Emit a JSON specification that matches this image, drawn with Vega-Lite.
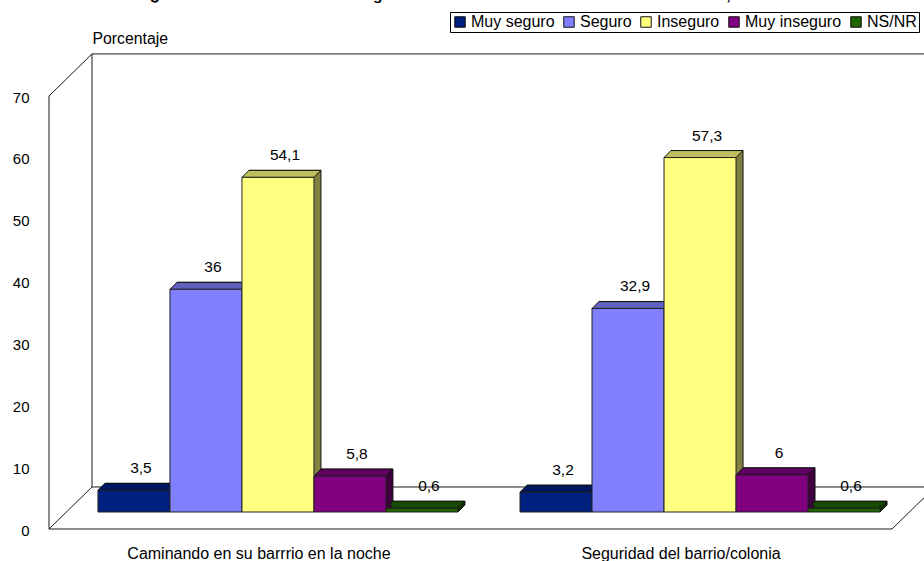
{
  "$schema": "https://vega.github.io/schema/vega-lite/v6.json",
  "width": 875,
  "height": 433,
  "autosize": "none",
  "padding": {"left": 49, "top": 96, "right": 0, "bottom": 32},
  "background": "white",
  "config": {
    "view": {"stroke": null},
    "locale": {"number": {"decimal": ",", "thousands": ".", "grouping": [3], "currency": ["", ""]}},
    "font": "Liberation Sans"
  },
  "title": {
    "text": "¿Cuánto se siente usted de seguro en su barrio o colonia al caminar de noche, 2008?",
    "anchor": "start",
    "frame": "group",
    "offset": 0,
    "dx": 101,
    "dy": 4,
    "font": "Liberation Sans",
    "fontSize": 15.5,
    "fontWeight": "bold",
    "color": "black",
    "baseline": "alphabetic"
  },
  "datasets": {
    "frame": [
      {"x": 43, "y": 6.79, "x2": 43, "y2": 76.8},
      {"x": 43, "y": 76.8, "x2": 880, "y2": 76.8},
      {"x": 43, "y": 6.79, "x2": 880, "y2": 6.79},
      {"x": 0, "y": 70, "x2": 43, "y2": 76.8},
      {"x": 0, "y": 0, "x2": 43, "y2": 6.79},
      {"x": 0, "y": 0, "x2": 0, "y2": 70},
      {"x": 0, "y": 0, "x2": 843, "y2": 0},
      {"x": 843, "y": 0, "x2": 886, "y2": 6.79}
    ],
    "bars": [
      {"lugar": "Caminando en su barrrio en la noche", "serie": "Muy seguro", "valor": 3.5},
      {"lugar": "Caminando en su barrrio en la noche", "serie": "Seguro", "valor": 36},
      {"lugar": "Caminando en su barrrio en la noche", "serie": "Inseguro", "valor": 54.1},
      {"lugar": "Caminando en su barrrio en la noche", "serie": "Muy inseguro", "valor": 5.8},
      {"lugar": "Caminando en su barrrio en la noche", "serie": "NS/NR", "valor": 0.6},
      {"lugar": "Seguridad del barrio/colonia", "serie": "Muy seguro", "valor": 3.2},
      {"lugar": "Seguridad del barrio/colonia", "serie": "Seguro", "valor": 32.9},
      {"lugar": "Seguridad del barrio/colonia", "serie": "Inseguro", "valor": 57.3},
      {"lugar": "Seguridad del barrio/colonia", "serie": "Muy inseguro", "valor": 6},
      {"lugar": "Seguridad del barrio/colonia", "serie": "NS/NR", "valor": 0.6}
    ]
  },
  "layer": [
    {
      "data": {"name": "frame"},
      "mark": {"type": "rule", "color": "#1a1a1a", "strokeWidth": 1},
      "encoding": {
        "x": {"field": "x", "type": "quantitative", "axis": null, "scale": {"domain": [0, 875], "range": [0, 875]}},
        "x2": {"field": "x2"},
        "y": {
          "field": "y", "type": "quantitative",
          "scale": {"domain": [0, 70], "nice": false},
          "axis": {
            "values": [0, 10, 20, 30, 40, 50, 60, 70],
            "domain": false, "ticks": false, "grid": false,
            "labelFont": "Liberation Sans", "labelFontSize": 15, "labelColor": "black", "labelPadding": 20, "labelOffset": 1,
            "title": "Porcentaje", "titleFont": "Liberation Sans", "titleFontSize": 15.8, "titleFontWeight": "normal", "titleColor": "black",
            "titleAngle": 0, "titleX": 43, "titleY": -58, "titleAlign": "left", "titleBaseline": "middle"
          }
        },
        "y2": {"field": "y2"}
      }
    },
    {
      "data": {"name": "bars"},
      "encoding": {
        "x": {
          "field": "lugar", "type": "nominal", "sort": null,
          "scale": {"range": [0, 880], "paddingInner": 0.147, "paddingOuter": 0.116},
          "axis": {
            "title": null, "labelAngle": 0, "domain": false, "ticks": false, "labelOffset": -19, "labelPadding": 16,
            "labelFont": "Liberation Sans", "labelFontSize": 16, "labelColor": "black", "labelLimit": 400
          }
        }
      },
      "layer": [
        {
          "mark": {"type": "bar", "yOffset": -24, "y2Offset": -24, "stroke": "#111", "strokeWidth": 1},
          "encoding": {
            "xOffset": {
              "field": "serie", "type": "nominal", "sort": null,
              "scale": {"type": "band", "domain": ["Muy seguro", "Seguro", "Inseguro", "Muy inseguro", "NS/NR"], "range": [7, 367], "paddingInner": 0, "paddingOuter": 0}
            },
            "y": {"field": "valor", "type": "quantitative", "stack": null, "scale": {"domain": [0, 70], "nice": false}},
            "y2": {"datum": 0},
            "color": {
              "field": "serie", "type": "nominal", "legend": null,
              "scale": {"domain": ["Muy seguro", "Seguro", "Inseguro", "Muy inseguro", "NS/NR"], "range": ["#001040", "#404080", "#808040", "#400040", "#0f3300"]}
            }
          }
        },
        {
          "mark": {"type": "point", "filled": true, "opacity": 1, "size": 4, "yOffset": -17, "stroke": "#111", "strokeWidth": 1,
            "shape": "M-36,0 L-29,-7 L43,-7 L36,0 Z"},
          "encoding": {
            "xOffset": {
              "field": "serie", "type": "nominal", "sort": null,
              "scale": {"type": "band", "domain": ["Muy seguro", "Seguro", "Inseguro", "Muy inseguro", "NS/NR"], "range": [0, 360], "paddingInner": 0, "paddingOuter": 0}
            },
            "y": {"field": "valor", "type": "quantitative", "scale": {"domain": [0, 70], "nice": false}},
            "color": {
              "field": "serie", "type": "nominal", "legend": null,
              "scale": {"domain": ["Muy seguro", "Seguro", "Inseguro", "Muy inseguro", "NS/NR"], "range": ["#001860", "#6060bf", "#bfbf60", "#600060", "#174c00"]}
            }
          }
        },
        {
          "mark": {"type": "point", "filled": true, "opacity": 1, "size": 4, "yOffset": -17, "stroke": "#111", "strokeWidth": 1,
            "shape": "M36,-7 L36,0 L43,-7"},
          "encoding": {
            "xOffset": {
              "field": "serie", "type": "nominal", "sort": null,
              "scale": {"type": "band", "domain": ["Muy seguro", "Seguro", "Inseguro", "Muy inseguro", "NS/NR"], "range": [0, 360], "paddingInner": 0, "paddingOuter": 0}
            },
            "y": {"datum": 0, "type": "quantitative", "scale": {"domain": [0, 70], "nice": false}},
            "color": {
              "field": "serie", "type": "nominal", "legend": null,
              "scale": {"domain": ["Muy seguro", "Seguro", "Inseguro", "Muy inseguro", "NS/NR"], "range": ["#001040", "#404080", "#808040", "#400040", "#0f3300"]}
            }
          }
        },
        {
          "mark": {"type": "bar", "yOffset": -17, "y2Offset": -17, "stroke": "#222", "strokeWidth": 1},
          "encoding": {
            "xOffset": {
              "field": "serie", "type": "nominal", "sort": null,
              "scale": {"type": "band", "domain": ["Muy seguro", "Seguro", "Inseguro", "Muy inseguro", "NS/NR"], "range": [0, 360], "paddingInner": 0, "paddingOuter": 0}
            },
            "y": {"field": "valor", "type": "quantitative", "stack": null, "scale": {"domain": [0, 70], "nice": false}},
            "y2": {"datum": 0},
            "color": {
              "field": "serie", "type": "nominal",
              "scale": {"domain": ["Muy seguro", "Seguro", "Inseguro", "Muy inseguro", "NS/NR"], "range": ["#002080", "#8080ff", "#ffff80", "#800080", "#1f6600"]},
              "legend": {
                "title": null, "orient": "none", "legendX": 401, "legendY": -84, "direction": "horizontal", "columns": 5,
                "symbolType": "square", "symbolSize": 110, "symbolStrokeColor": "#111", "symbolStrokeWidth": 1,
                "labelFont": "Liberation Sans", "labelFontSize": 16, "labelColor": "black",
                "columnPadding": 6, "padding": 2, "strokeColor": "black", "fillColor": "white", "labelOffset": 3
              }
            }
          }
        },
        {
          "mark": {"type": "text", "font": "Liberation Sans", "fontSize": 15.5, "color": "black", "dx": 7, "dy": -22, "yOffset": -17, "baseline": "middle"},
          "encoding": {
            "xOffset": {
              "field": "serie", "type": "nominal", "sort": null,
              "scale": {"type": "band", "domain": ["Muy seguro", "Seguro", "Inseguro", "Muy inseguro", "NS/NR"], "range": [0, 360], "paddingInner": 0, "paddingOuter": 0}
            },
            "y": {"field": "valor", "type": "quantitative", "scale": {"domain": [0, 70], "nice": false}},
            "text": {"field": "valor", "type": "quantitative", "format": ".1~f"}
          }
        }
      ],
      "resolve": {"scale": {"color": "independent", "xOffset": "independent"}}
    }
  ],
  "resolve": {"scale": {"x": "independent", "color": "independent"}, "axis": {"x": "independent"}}
}
